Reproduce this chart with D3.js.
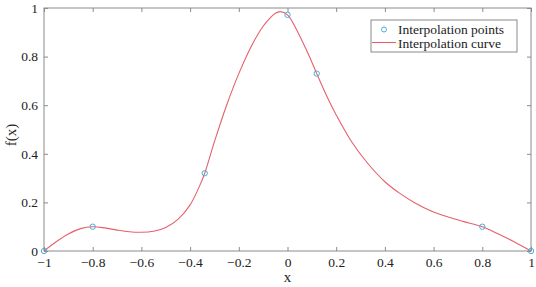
<!DOCTYPE html>
<html><head><meta charset="utf-8">
<script src="https://cdn.jsdelivr.net/npm/d3@7"></script>
<style>body{margin:0;background:#fff}svg text{font-family:"DejaVu Serif","Liberation Serif","Times New Roman",serif;fill:#222}</style>
</head><body><svg id="c" width="536" height="287"></svg>
<script>
const pointX = [-1, -0.8, -0.34, 0, 0.12, 0.8, 1];
const pointY = [0, 0.1, 0.32, 0.972, 0.73, 0.1, 0];
const curveX = [-1,-0.95,-0.9,-0.85,-0.8,-0.75,-0.7,-0.65,-0.6,-0.55,-0.5,-0.45,-0.4,-0.36,-0.34,-0.3,-0.25,-0.2,-0.15,-0.1,-0.07,-0.05,-0.03,0,0.05,0.09,0.12,0.16,0.2,0.26,0.33,0.4,0.46,0.52,0.59,0.66,0.72,0.8,0.86,0.93,1];
const curveY = [0,0.038,0.07,0.092,0.1,0.095,0.086,0.079,0.077,0.081,0.097,0.13,0.19,0.27,0.32,0.45,0.6,0.73,0.84,0.925,0.96,0.978,0.985,0.972,0.885,0.8,0.73,0.64,0.56,0.455,0.36,0.285,0.238,0.2,0.165,0.14,0.122,0.1,0.073,0.038,0];
const xTicks = [-1,-0.8,-0.6,-0.4,-0.2,0,0.2,0.4,0.6,0.8,1];
const yTicks = [0,0.2,0.4,0.6,0.8,1];
const legendLabels = ["Interpolation points","Interpolation curve"];

const svg = d3.select("#c");
const L=44, R=531, T=8, B=251;
const x = d3.scaleLinear().domain([-1,1]).range([L,R]);
const y = d3.scaleLinear().domain([0,1]).range([B,T]);
const boxC = "#8a8a8a", curveC = "#e5606c", ptC = "#4aaed6";
const FF = '"Liberation Serif","DejaVu Serif",serif';

svg.append("rect").attr("x",L).attr("y",T).attr("width",R-L).attr("height",B-T)
  .attr("fill","none").attr("stroke",boxC).attr("stroke-width",1);

const fmt = d => d3.format("")(d);
const ax = [
  d3.axisBottom(x).tickValues(xTicks).tickSizeInner(-4).tickSizeOuter(0).tickPadding(6).tickFormat(fmt),
  d3.axisTop(x).tickValues(xTicks).tickSizeInner(-4).tickSizeOuter(0).tickFormat(""),
  d3.axisLeft(y).tickValues(yTicks).tickSizeInner(-4).tickSizeOuter(0).tickPadding(6).tickFormat(fmt),
  d3.axisRight(y).tickValues(yTicks).tickSizeInner(-4).tickSizeOuter(0).tickFormat("")
];
const pos = ["translate(0,"+B+")","translate(0,"+T+")","translate("+L+",0)","translate("+R+",0)"];
ax.forEach((a,i)=>{
  const g = svg.append("g").attr("transform",pos[i]).call(a);
  g.select(".domain").remove();
  g.selectAll("line").attr("stroke",boxC);
  g.selectAll("text").style("font-family",FF).attr("font-size",13.5).attr("fill","#222");
});

const line = d3.line().x((d,i)=>x(curveX[i])).y((d,i)=>y(curveY[i])).curve(d3.curveCatmullRom.alpha(0.5));
svg.append("path").datum(curveX).attr("d",line).attr("fill","none").attr("stroke",curveC).attr("stroke-width",1.1);

svg.selectAll("circle.p").data(pointX).enter().append("circle").attr("class","p")
  .attr("cx",d=>x(d)).attr("cy",(d,i)=>y(pointY[i])).attr("r",2.7)
  .attr("fill","none").attr("stroke",ptC).attr("stroke-width",1);

svg.append("text").attr("x",x(0)).attr("y",282).attr("text-anchor","middle").style("font-family",FF).attr("font-size",15).text("x");
svg.append("text").attr("transform","translate(16,135) rotate(-90)").attr("text-anchor","middle").style("font-family",FF).attr("font-size",15).text("f(x)");

const lg = svg.append("g");
lg.append("rect").attr("x",371).attr("y",20).attr("width",146).attr("height",32).attr("fill","#fff").attr("stroke",boxC);
lg.append("circle").attr("cx",384).attr("cy",29.5).attr("r",2.5).attr("fill","none").attr("stroke",ptC);
lg.append("line").attr("x1",372).attr("x2",396).attr("y1",42.5).attr("y2",42.5).attr("stroke",curveC).attr("stroke-width",1.1);
lg.selectAll("text.l").data(legendLabels).enter().append("text").attr("class","l")
  .attr("x",398).attr("y",(d,i)=>34+i*13.5).style("font-family",FF).attr("font-size",13.5).text(d=>d);
</script></body></html>
